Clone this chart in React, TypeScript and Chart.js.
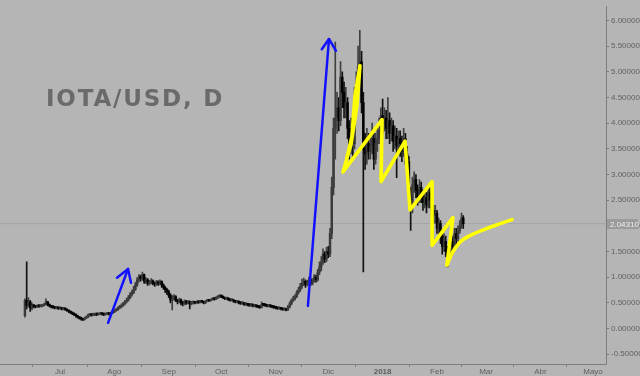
import React, { useEffect, useRef } from 'react';
import { Chart, registerables } from 'chart.js';

Chart.register(...registerables);

// Day index: 18 = 1 Jul 2017, 202 = 1 Jan 2018
const firstDay = -2;
const firstOpen = 0.25;

const closes = [
  0.55, 0.45, 0.52, 0.40, 0.45, 0.43, 0.42, 0.44, 0.43, 0.44, 0.45, 0.47, 0.52, 0.46, 0.44, 0.42,
  0.41, 0.40, 0.41, 0.39, 0.40, 0.38, 0.39, 0.37,
  0.35, 0.33, 0.31, 0.29, 0.27, 0.25, 0.22, 0.20, 0.19, 0.17,
  0.20, 0.22, 0.26, 0.27, 0.26, 0.28,
  0.28, 0.27, 0.28, 0.29, 0.28, 0.27, 0.28, 0.29, 0.28,
  0.30, 0.32, 0.35, 0.36, 0.40, 0.42, 0.45, 0.48, 0.52, 0.55, 0.60, 0.66, 0.70, 0.76,
  0.85, 0.95, 1.00, 0.98, 1.05,
  0.92, 0.95, 0.88, 0.90, 0.93, 0.88, 0.86, 0.90,
  0.88, 0.92, 0.85, 0.80, 0.75, 0.72, 0.65,
  0.55, 0.58, 0.62, 0.55, 0.52, 0.56, 0.50, 0.48, 0.53, 0.50, 0.52, 0.48, 0.50, 0.51,
  0.50, 0.52, 0.51, 0.53, 0.52, 0.50, 0.53, 0.55, 0.54, 0.56, 0.58, 0.57, 0.60, 0.61, 0.63,
  0.62, 0.60, 0.58, 0.59, 0.56, 0.55, 0.56, 0.53, 0.52, 0.53, 0.50, 0.49, 0.50, 0.47, 0.48, 0.46, 0.45, 0.47, 0.44, 0.45, 0.43, 0.42, 0.41,
  0.47,
  0.46, 0.45, 0.44, 0.45, 0.43, 0.42, 0.41, 0.40, 0.39, 0.40, 0.38, 0.37, 0.38, 0.36,
  0.42, 0.48, 0.55, 0.58, 0.62, 0.70, 0.75, 0.82,
  0.88, 0.92, 0.85, 0.90, 0.95, 0.88, 0.93, 1.00, 0.95, 1.10, 1.20,
  1.30, 1.45, 1.35, 1.50, 1.45, 1.85,
  2.75, 3.90, 4.10, 4.30, 4.05, 4.90, 4.60, 4.30, 4.40, 3.90, 3.50, 3.80, 3.60, 4.40, 4.80, 5.10, 5.20,
  4.40, 3.50, 3.40, 3.60, 3.45, 3.55, 3.70, 3.30, 3.60, 3.70, 3.85, 4.15, 4.00, 4.10, 3.90, 4.05, 3.80, 3.95, 3.65, 3.75, 3.55, 3.70, 3.60, 3.45, 3.70, 3.40, 3.25,
  2.60, 2.35, 2.80, 2.90, 2.70, 2.55, 2.75, 2.60, 2.45, 2.55, 2.40, 2.65, 2.50, 2.30, 2.20, 2.25, 1.95, 2.05, 1.80, 1.60, 1.70, 1.50, 1.35, 1.55, 1.70, 1.60, 1.85, 1.75, 1.90, 2.00, 2.15, 2.04,
];

const highs = [
  0.58, 1.30, 0.60, 0.55, 0.50, 0.47, 0.45, 0.46, 0.46, 0.46, 0.47, 0.49, 0.58, 0.53, 0.48, 0.45,
  0.44, 0.43, 0.43, 0.42, 0.42, 0.41, 0.41, 0.40,
  0.38, 0.36, 0.34, 0.32, 0.30, 0.28, 0.26, 0.23, 0.22, 0.20,
  0.22, 0.24, 0.28, 0.29, 0.28, 0.30,
  0.30, 0.30, 0.30, 0.31, 0.30, 0.29, 0.30, 0.31, 0.30,
  0.32, 0.34, 0.37, 0.39, 0.42, 0.45, 0.48, 0.51, 0.55, 0.59, 0.64, 0.70, 0.75, 0.82,
  0.90, 0.99, 1.05, 1.04, 1.10,
  1.06, 0.99, 0.97, 0.94, 0.97, 0.95, 0.91, 0.94,
  0.93, 0.95, 0.93, 0.87, 0.82, 0.78, 0.75,
  0.68, 0.64, 0.66, 0.64, 0.57, 0.59, 0.58, 0.53, 0.56, 0.55, 0.55, 0.54, 0.53, 0.54,
  0.53, 0.54, 0.54, 0.55, 0.55, 0.53, 0.55, 0.57, 0.57, 0.58, 0.60, 0.60, 0.62, 0.64, 0.66,
  0.65, 0.63, 0.61, 0.61, 0.60, 0.58, 0.58, 0.57, 0.55, 0.55, 0.54, 0.52, 0.52, 0.51, 0.50, 0.49, 0.48, 0.49, 0.48, 0.47, 0.46, 0.44, 0.44,
  0.52,
  0.49, 0.48, 0.47, 0.47, 0.46, 0.45, 0.44, 0.43, 0.42, 0.42, 0.41, 0.40, 0.40, 0.39,
  0.45, 0.52, 0.58, 0.63, 0.66, 0.74, 0.80, 0.88,
  0.96, 0.98, 0.95, 0.94, 1.00, 0.98, 0.97, 1.05, 1.04, 1.15, 1.30,
  1.40, 1.55, 1.50, 1.58, 1.60, 1.95,
  2.95, 4.10, 5.58, 4.60, 4.50, 5.20, 5.00, 4.80, 4.70, 4.50, 4.05, 4.10, 4.00, 4.70, 5.00, 5.50, 5.81,
  5.40, 4.60, 3.80, 3.90, 3.80, 3.80, 4.00, 3.85, 3.80, 3.95, 4.10, 4.30, 4.47, 4.30, 4.25, 4.50, 4.20, 4.10, 4.05, 3.95, 3.90, 3.85, 3.85, 3.75, 3.90, 3.80, 3.55,
  3.35, 2.75, 2.95, 3.05, 3.00, 2.80, 2.90, 2.85, 2.70, 2.70, 2.65, 2.80, 2.75, 2.60, 2.40, 2.40, 2.30, 2.15, 2.10, 1.90, 1.85, 1.80, 1.60, 1.65, 1.80, 1.80, 1.95, 1.95, 2.00, 2.10, 2.25, 2.20,
];

const lows = [
  0.22, 0.38, 0.42, 0.33, 0.36, 0.40, 0.40, 0.41, 0.41, 0.42, 0.42, 0.44, 0.46, 0.44, 0.42, 0.40,
  0.39, 0.38, 0.38, 0.37, 0.37, 0.36, 0.36, 0.35,
  0.33, 0.31, 0.29, 0.27, 0.25, 0.22, 0.20, 0.18, 0.16, 0.15,
  0.16, 0.19, 0.21, 0.24, 0.24, 0.25,
  0.26, 0.25, 0.26, 0.27, 0.26, 0.25, 0.26, 0.27, 0.26,
  0.27, 0.29, 0.31, 0.33, 0.35, 0.38, 0.40, 0.43, 0.46, 0.50, 0.53, 0.58, 0.63, 0.68,
  0.74, 0.82, 0.90, 0.92, 0.94,
  0.88, 0.88, 0.84, 0.85, 0.87, 0.85, 0.82, 0.84,
  0.84, 0.85, 0.80, 0.76, 0.70, 0.66, 0.60,
  0.50, 0.36, 0.55, 0.52, 0.48, 0.50, 0.46, 0.44, 0.46, 0.47, 0.48, 0.38, 0.46, 0.48,
  0.48, 0.49, 0.49, 0.50, 0.50, 0.48, 0.49, 0.52, 0.52, 0.53, 0.55, 0.55, 0.56, 0.58, 0.60,
  0.60, 0.58, 0.56, 0.56, 0.54, 0.53, 0.53, 0.51, 0.50, 0.50, 0.48, 0.47, 0.47, 0.45, 0.45, 0.44, 0.43, 0.43, 0.42, 0.42, 0.41, 0.40, 0.39,
  0.40,
  0.44, 0.43, 0.42, 0.42, 0.41, 0.40, 0.39, 0.38, 0.37, 0.37, 0.36, 0.35, 0.35, 0.34,
  0.35, 0.40, 0.46, 0.52, 0.55, 0.60, 0.67, 0.72,
  0.78, 0.84, 0.80, 0.83, 0.87, 0.84, 0.85, 0.90, 0.90, 0.92, 1.05,
  1.12, 1.25, 1.28, 1.30, 1.38, 1.40,
  1.75, 2.60, 3.30, 3.80, 3.85, 3.95, 4.30, 4.10, 4.10, 3.70, 3.30, 3.40, 3.35, 3.50, 4.20, 4.60, 4.80,
  4.20, 1.10, 3.10, 3.20, 3.30, 3.30, 3.40, 3.10, 3.20, 3.45, 3.60, 3.75, 3.80, 3.85, 3.70, 3.70, 3.60, 3.65, 3.45, 3.50, 2.94, 3.40, 3.35, 3.25, 3.35, 3.20, 3.05,
  2.40, 1.91, 2.25, 2.65, 2.55, 2.40, 2.45, 2.45, 2.30, 2.35, 2.25, 2.35, 2.35, 2.15, 2.05, 2.05, 1.85, 1.80, 1.65, 1.45, 1.50, 1.40, 1.20, 1.30, 1.50, 1.50, 1.55, 1.65, 1.70, 1.85, 1.95, 1.95,
];

const monthTicks = [18, 49, 80, 110, 141, 171, 202, 233, 261, 292, 322];
const monthLabels = ['Jul', 'Ago', 'Sep', 'Oct', 'Nov', 'Dic', '2018', 'Feb', 'Mar', 'Abr', 'Mayo'];
const priceTicks = [-0.5, 0, 0.5, 1, 1.5, 2, 2.5, 3, 3.5, 4, 4.5, 5, 5.5, 6];
const lastPrice = 2.0431;
const titleText = 'IOTA/USD, D';

// Hand-drawn annotations (day index, price)
const blueArrow1Shaft = [{ x: 45.4, y: 0.11 }, { x: 56.8, y: 1.16 }];
const blueArrow1Head = [{ x: 50.5, y: 0.99 }, { x: 56.8, y: 1.16 }, { x: 58.5, y: 0.89 }];
const blueArrow2Shaft = [{ x: 159.4, y: 0.44 }, { x: 171.4, y: 5.64 }];
const blueArrow2Head = [{ x: 167.3, y: 5.44 }, { x: 171.4, y: 5.64 }, { x: 175.4, y: 5.41 }];
const yellowZigzag = [
  { x: 180.0, y: 3.09 }, { x: 184.5, y: 3.74 }, { x: 186.3, y: 4.55 }, { x: 189.1, y: 5.12 },
  { x: 187.4, y: 4.35 }, { x: 184.0, y: 3.59 }, { x: 179.4, y: 3.05 }, { x: 201.7, y: 4.07 },
  { x: 201.1, y: 2.86 }, { x: 214.8, y: 3.65 }, { x: 217.6, y: 2.31 }, { x: 230.2, y: 2.86 },
  { x: 230.2, y: 1.62 }, { x: 242.1, y: 2.16 }, { x: 238.7, y: 1.24 },
];
const yellowCurve = [
  { x: 238.7, y: 1.24 }, { x: 241.6, y: 1.47 }, { x: 246.1, y: 1.68 }, { x: 251.8, y: 1.81 },
  { x: 258.7, y: 1.91 }, { x: 267.2, y: 2.02 }, { x: 275.8, y: 2.12 },
];

const X_MIN = -16.22;
const X_MAX = 329.4;
const Y_MIN = -0.692;
const Y_MAX = 6.267;

export default function App() {
  const ref = useRef<HTMLCanvasElement | null>(null);

  useEffect(() => {
    const canvas = ref.current;
    if (!canvas) return;

    const wickData: any[] = [];
    const bodyData: any[] = [];
    const wickColors: string[] = [];
    const bodyColors: string[] = [];
    closes.forEach((c, i) => {
      const o = i === 0 ? firstOpen : closes[i - 1];
      const d = firstDay + i;
      const lo = Math.min(lows[i], o, c);
      const hi = Math.max(highs[i], o, c);
      wickData.push({ x: d, y: [lo, hi] });
      bodyData.push({ x: d, y: [Math.min(o, c), Math.max(o, c)] });
      const up = c >= o;
      bodyColors.push(up ? '#3a3a3a' : '#000000');
      wickColors.push(up ? '#404040' : '#111111');
    });

    const bgPlugin = {
      id: 'bg',
      beforeDraw(chart: any) {
        const ctx = chart.ctx;
        ctx.save();
        ctx.fillStyle = '#b5b5b5';
        ctx.fillRect(0, 0, chart.width, chart.height);
        ctx.restore();
      },
      beforeDatasetsDraw(chart: any) {
        const ctx = chart.ctx;
        ctx.save();
        ctx.fillStyle = '#6a6a6a';
        ctx.font = 'bold 23px "DejaVu Sans", sans-serif';
        try { (ctx as any).letterSpacing = '1.8px'; } catch (e) {}
        ctx.textBaseline = 'alphabetic';
        ctx.textAlign = 'left';
        ctx.fillText(titleText, 46, 106);
        ctx.restore();
      },
      afterDraw(chart: any) {
        const ctx = chart.ctx;
        const ys = chart.scales.y;
        const y = Math.round(ys.getPixelForValue(lastPrice));
        const x0 = chart.chartArea.right + 1;
        ctx.save();
        ctx.fillStyle = '#9b9b9b';
        ctx.fillRect(x0, y - 5, 31, 10);
        ctx.fillStyle = '#eeeeee';
        ctx.font = '8px "Liberation Sans", Arial, sans-serif';
        ctx.textBaseline = 'middle';
        ctx.textAlign = 'left';
        ctx.fillText(lastPrice.toFixed(5), x0 + 3, y + 0.5);
        ctx.restore();
      },
    };

    const lineBase = {
      type: 'line' as const,
      pointRadius: 0,
      fill: false,
      borderCapStyle: 'round' as const,
      borderJoinStyle: 'round' as const,
      tension: 0,
    };

    const chart = new Chart(canvas, {
      type: 'bar',
      data: {
        datasets: [
          { ...lineBase, data: yellowZigzag, borderColor: '#ffff00', borderWidth: 3.6, order: 0 } as any,
          { ...lineBase, data: yellowCurve, borderColor: '#ffff00', borderWidth: 3.6, tension: 0.4, cubicInterpolationMode: 'monotone', order: 0 } as any,
          { ...lineBase, data: blueArrow1Shaft, borderColor: '#1212ff', borderWidth: 2.5, order: 1 } as any,
          { ...lineBase, data: blueArrow1Head, borderColor: '#1212ff', borderWidth: 2.5, order: 1 } as any,
          { ...lineBase, data: blueArrow2Shaft, borderColor: '#1212ff', borderWidth: 2.5, order: 1 } as any,
          { ...lineBase, data: blueArrow2Head, borderColor: '#1212ff', borderWidth: 2.5, order: 1 } as any,
          {
            type: 'bar', data: bodyData, backgroundColor: bodyColors, barThickness: 1.8,
            grouped: false, minBarLength: 1.5, order: 5,
          } as any,
          {
            type: 'bar', data: wickData, backgroundColor: wickColors, barThickness: 1,
            grouped: false, order: 6,
          } as any,
          {
            ...lineBase,
            data: [{ x: X_MIN, y: lastPrice }, { x: X_MAX, y: lastPrice }],
            borderColor: '#a4a4a4', borderWidth: 1, borderCapStyle: 'butt', order: 10,
          } as any,
        ],
      },
      options: {
        animation: false,
        responsive: false,
        devicePixelRatio: 1,
        layout: { padding: 0 },
        plugins: { legend: { display: false }, tooltip: { enabled: false } },
        scales: {
          x: {
            type: 'linear',
            min: X_MIN,
            max: X_MAX,
            offset: false,
            grid: { display: true, drawOnChartArea: false, drawTicks: true, tickLength: 3, color: '#7c7c7c' },
            border: { display: true, color: '#7e7e7e', width: 1 },
            afterBuildTicks: (s: any) => { s.ticks = monthTicks.map((v) => ({ value: v })); },
            afterFit: (s: any) => { s.height = 12; },
            ticks: {
              autoSkip: false,
              maxRotation: 0,
              padding: 0,
              color: '#5f5f5f',
              font: (ctx: any) => ({
                family: '"Liberation Sans", Arial, sans-serif',
                size: 8,
                weight: ctx.tick && ctx.tick.value === 202 ? 'bold' : 'normal',
              }),
              callback: (v: any) => {
                const k = monthTicks.indexOf(Number(v));
                return k >= 0 ? monthLabels[k] : '';
              },
            },
          },
          y: {
            type: 'linear',
            position: 'right',
            min: Y_MIN,
            max: Y_MAX,
            grid: { display: true, drawOnChartArea: false, drawTicks: true, tickLength: 3, color: '#7c7c7c' },
            border: { display: true, color: '#7e7e7e', width: 1 },
            afterBuildTicks: (s: any) => { s.ticks = priceTicks.map((v) => ({ value: v })); },
            afterFit: (s: any) => { s.width = 34; },
            ticks: {
              padding: 2,
              color: '#5f5f5f',
              font: { family: '"Liberation Sans", Arial, sans-serif', size: 8 },
              callback: (v: any) => Number(v).toFixed(5),
            },
          },
        },
      } as any,
      plugins: [bgPlugin],
    });

    return () => chart.destroy();
  }, []);

  return (
    <div style={{ position: 'fixed', left: 0, top: 0, width: 640, height: 376, background: '#b5b5b5' }}>
      <canvas ref={ref} width={640} height={376} style={{ display: 'block', width: 640, height: 376 }} />
    </div>
  );
}
